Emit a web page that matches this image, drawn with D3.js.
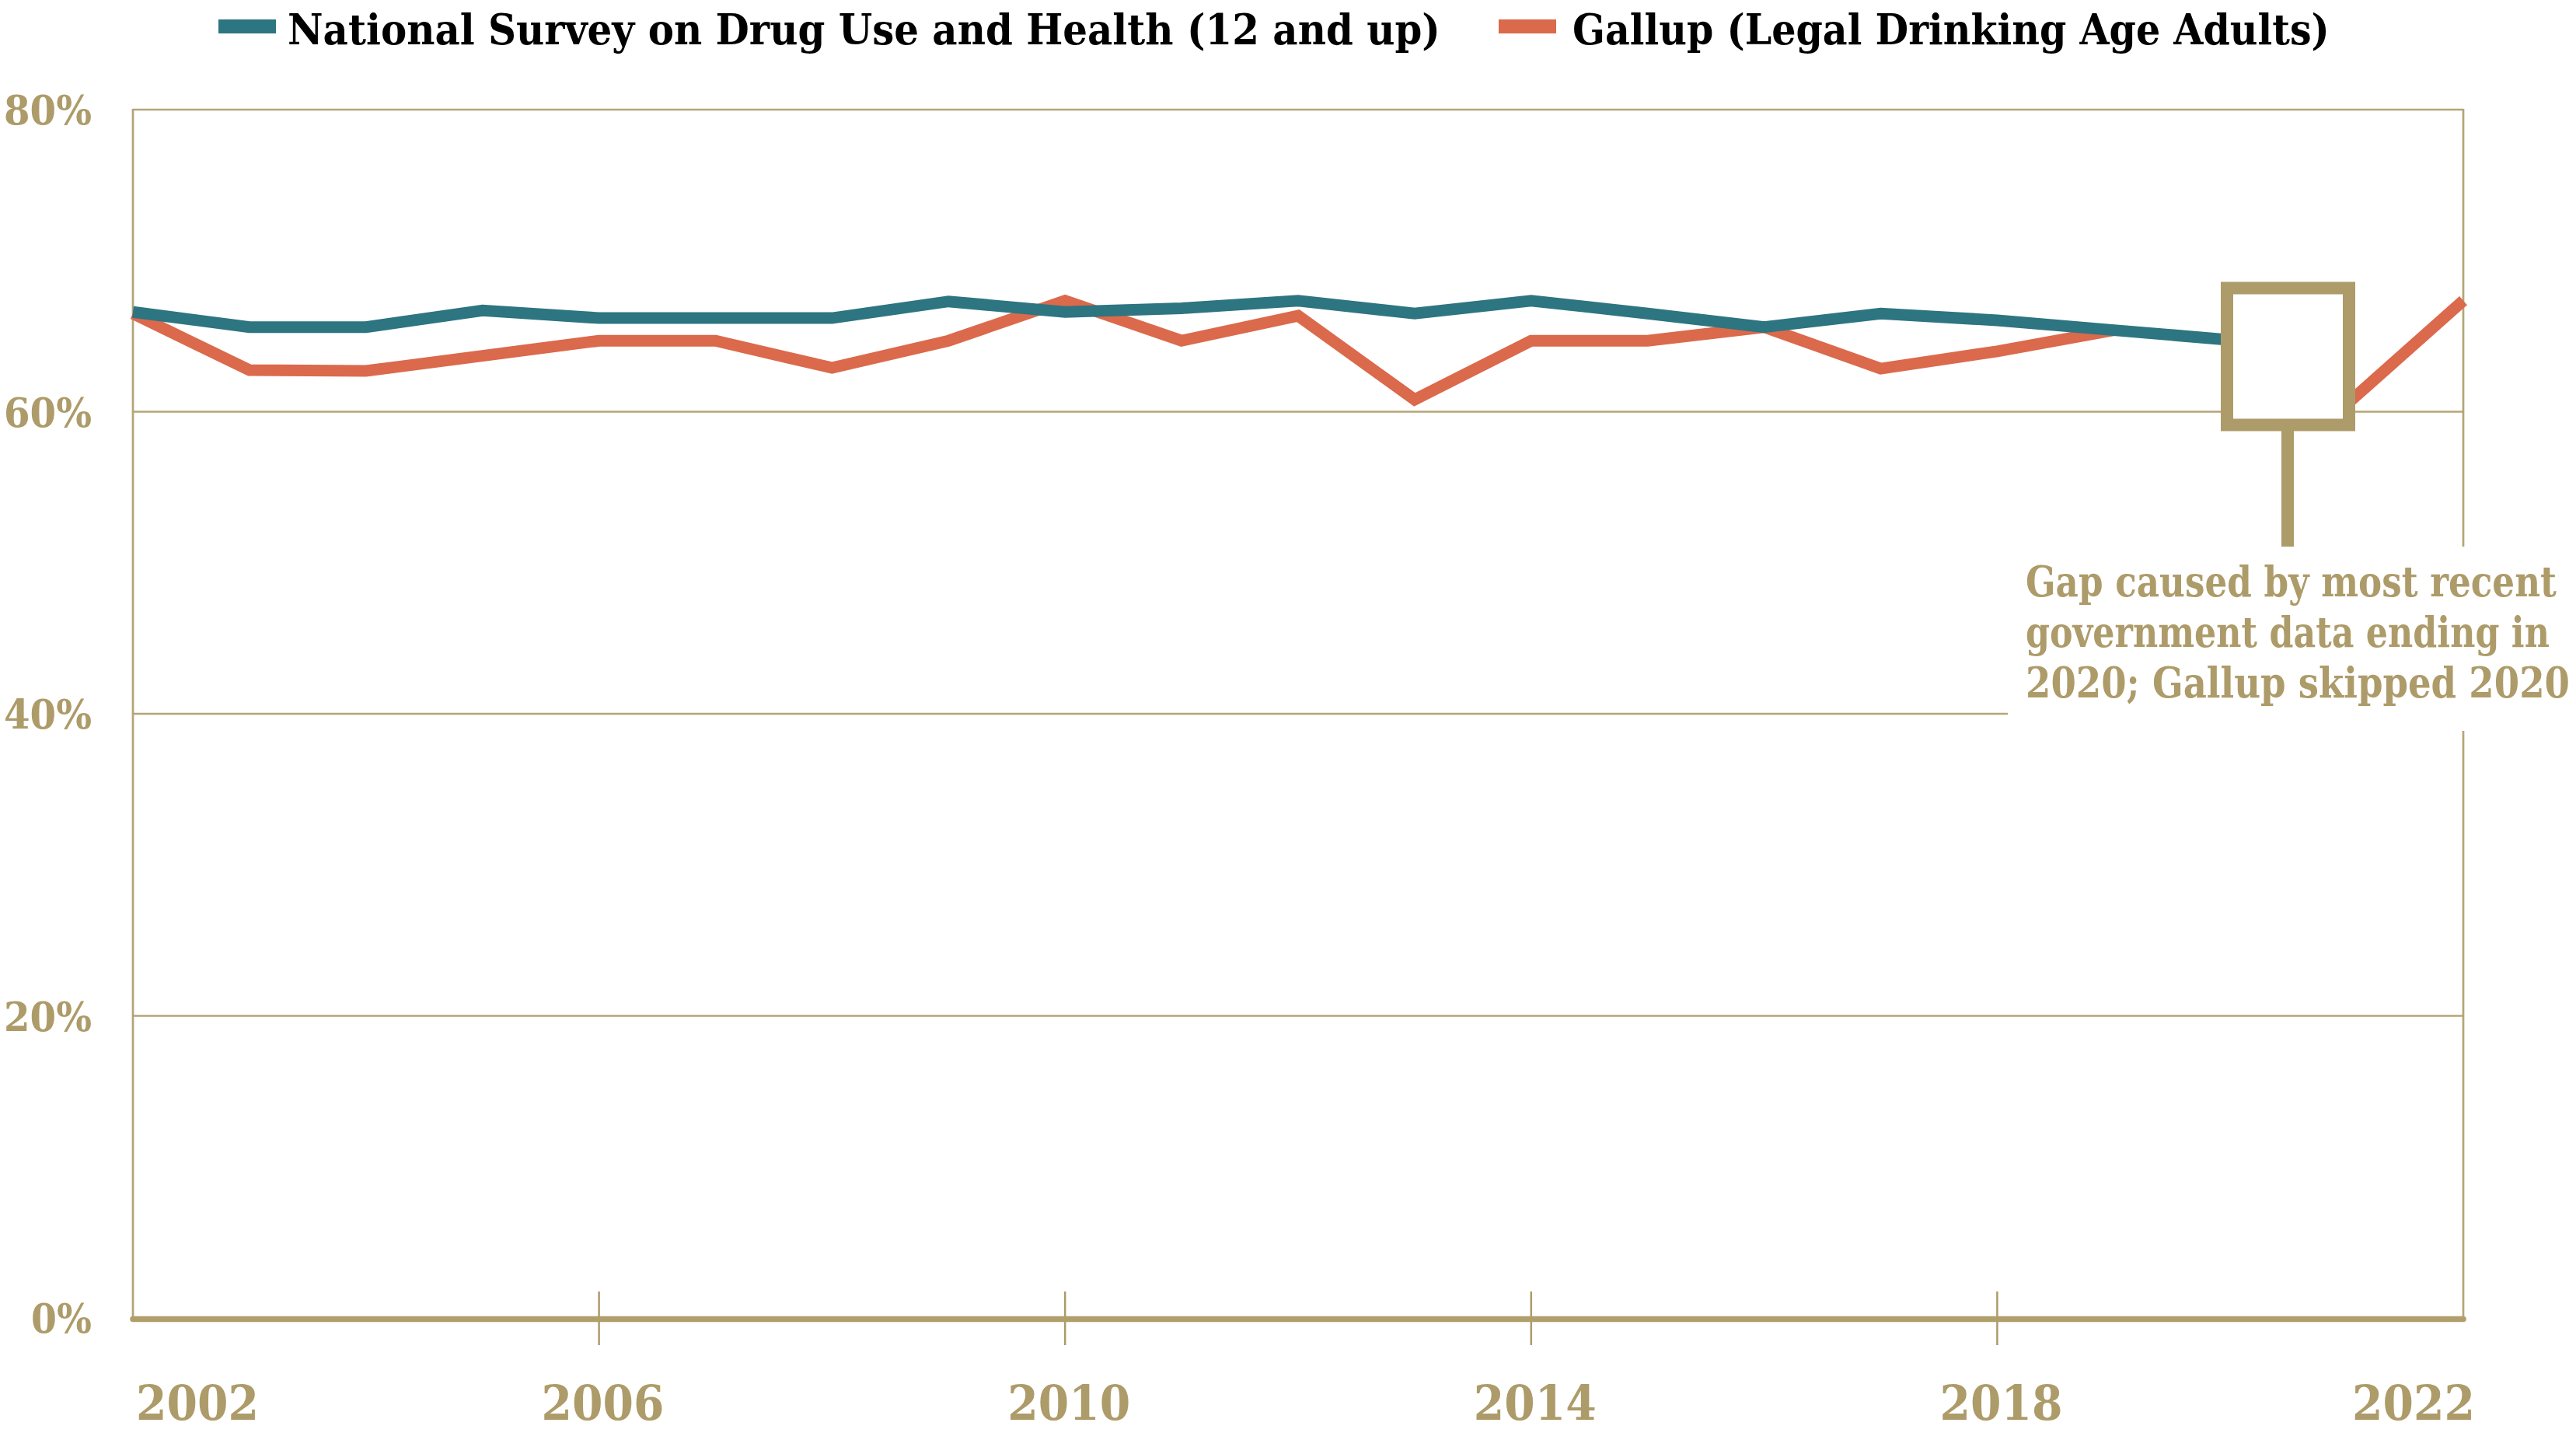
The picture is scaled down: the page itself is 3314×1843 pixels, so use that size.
<!DOCTYPE html>
<html>
<head>
<meta charset="utf-8">
<script src="https://cdn.jsdelivr.net/npm/d3@7"></script>
<style>
  html, body { margin: 0; padding: 0; background: #fff; }
  svg { display: block; }
  text { font-family: "DejaVu Serif", serif; font-weight: bold; }
</style>
</head>
<body>
<svg id="chart"></svg>
<script>
// values (percent who drink)
var years = [2002, 2003, 2004, 2005, 2006, 2007, 2008, 2009, 2010, 2011, 2012,
             2013, 2014, 2015, 2016, 2017, 2018, 2019, 2020, 2021, 2022];
var nsduh = [66.6, 65.6, 65.6, 66.7, 66.2, 66.2, 66.2, 67.3, 66.6, 66.85, 67.35,
             66.5, 67.35, 66.5, 65.6, 66.5, 66.05, 65.4, 64.75, null, null];
var gallup = [66.5, 62.75, 62.7, 63.7, 64.7, 64.7, 62.9, 64.7, 67.35, 64.7, 66.35,
              60.8, 64.7, 64.7, 65.6, 62.85, 64.0, 65.4, null, 60.5, 67.35];
var seriesNames = ["National Survey on Drug Use and Health (12 and up)", "Gallup (Legal Drinking Age Adults)"];
var yTicks = [0, 20, 40, 60, 80];
var xTicks = [2002, 2006, 2010, 2014, 2018, 2022];
var noteLines = ["Gap caused by most recent", "government data ending in", "2020; Gallup skipped 2020"];

var W = 3314, H = 1843;
var teal = "#2d7580", orange = "#db694c", tan = "#ad9b69", grid = "#b4a577";

var svg = d3.select("#chart").attr("width", W).attr("height", H);

var x = d3.scaleLinear().domain([2002, 2022]).range([171, 3169]);
var y = d3.scaleLinear().domain([0, 80]).range([1695, 141]);

// put a text at (px, py) and squeeze it sideways to width w
function fit(node, px, py, w) {
    var sel = d3.select(node).attr("x", 0).attr("y", 0);
    var nat = node.getComputedTextLength();
    var k = Math.min(1, w / nat);
    sel.attr("transform", "translate(" + px + "," + py + ") scale(" + k + ",1)");
}

// horizontal gridlines (40% one stops at the note)
svg.selectAll(".grid")
    .data(yTicks.filter(function (d) { return d > 0; }))
    .enter()
    .append("line")
    .attr("x1", x(2002))
    .attr("x2", function (d) { return d == 40 ? 2583 : x(2022); })
    .attr("y1", function (d) { return y(d); })
    .attr("y2", function (d) { return y(d); })
    .attr("stroke", grid)
    .attr("stroke-width", 2.7);

// frame sides
svg.append("line")
    .attr("x1", x(2002)).attr("x2", x(2002))
    .attr("y1", y(80) - 1).attr("y2", y(0))
    .attr("stroke", grid).attr("stroke-width", 2.7);
svg.append("line")
    .attr("x1", x(2022)).attr("x2", x(2022))
    .attr("y1", y(80) - 1).attr("y2", y(0))
    .attr("stroke", grid).attr("stroke-width", 2.7);

// x ticks (inner ones only)
svg.selectAll(".tick")
    .data(xTicks.slice(1, -1))
    .enter()
    .append("line")
    .attr("x1", function (d) { return x(d); })
    .attr("x2", function (d) { return x(d); })
    .attr("y1", y(0) - 34)
    .attr("y2", y(0) + 35)
    .attr("stroke", tan)
    .attr("stroke-width", 2.5);

// baseline
svg.append("line")
    .attr("x1", x(2002)).attr("x2", x(2022))
    .attr("y1", y(0) + 1.5).attr("y2", y(0) + 1.5)
    .attr("stroke", "#b09f6b").attr("stroke-width", 7.5)
    .attr("stroke-linecap", "round");

// white box behind the note text
svg.append("rect")
    .attr("x", 2583).attr("y", 703)
    .attr("width", W - 2583).attr("height", 237)
    .attr("fill", "#fff");

// series lines
var line = d3.line()
    .defined(function (d) { return d.v != null; })
    .x(function (d) { return x(d.year); })
    .y(function (d) { return y(d.v); });

[[gallup, orange], [nsduh, teal]].forEach(function (s) {
    var pts = years.map(function (yr, i) { return { year: yr, v: s[0][i] }; });
    svg.append("path")
        .datum(pts)
        .attr("d", line)
        .attr("fill", "none")
        .attr("stroke", s[1])
        .attr("stroke-width", 15)
        .attr("stroke-linejoin", "miter")
        .attr("stroke-linecap", "butt");
});

// gap marker box and stem
svg.append("rect")
    .attr("x", 2865).attr("y", 370.5)
    .attr("width", 157).attr("height", 176)
    .attr("fill", "#fff")
    .attr("stroke", tan)
    .attr("stroke-width", 16);
svg.append("line")
    .attr("x1", 2943).attr("x2", 2943)
    .attr("y1", 554).attr("y2", 703)
    .attr("stroke", tan).attr("stroke-width", 16);

// note text
svg.selectAll(".note")
    .data(noteLines)
    .enter()
    .append("text")
    .attr("font-size", 54)
    .attr("fill", tan)
    .text(function (d) { return d; })
    .each(function (d, i) { fit(this, 2606, 767 + i * 65, [683, 674, 700][i]); });

// y labels
svg.selectAll(".ylab")
    .data(yTicks)
    .enter()
    .append("text")
    .attr("text-anchor", "end")
    .attr("font-size", 52)
    .attr("fill", tan)
    .text(function (d) { return d + "%"; })
    .each(function (d) { fit(this, 118, y(d) + 19, d == 0 ? 78 : 113); });

// x labels
svg.selectAll(".xlab")
    .data(xTicks)
    .enter()
    .append("text")
    .attr("text-anchor", function (d, i) {
        return i == 0 ? "start" : (i == xTicks.length - 1 ? "end" : "middle");
    })
    .attr("font-size", 62)
    .attr("fill", tan)
    .text(function (d) { return d; })
    .each(function (d, i) {
        var px = x(d) + 5;
        if (i == 0) px = x(d) + 4;
        if (i == xTicks.length - 1) px = x(d) + 15;
        fit(this, px, 1826, 158);
    });

// legend
var legend = [
    { name: seriesNames[0], color: teal, x0: 281, tx: 370, w: 1483 },
    { name: seriesNames[1], color: orange, x0: 1928, tx: 2023, w: 974 }
];
var lg = svg.selectAll(".legend")
    .data(legend)
    .enter()
    .append("g");
lg.append("rect")
    .attr("x", function (d) { return d.x0; })
    .attr("y", 25)
    .attr("width", 74)
    .attr("height", 18)
    .attr("fill", function (d) { return d.color; });
lg.append("text")
    .attr("font-size", 55)
    .attr("fill", "#000")
    .text(function (d) { return d.name; })
    .each(function (d) { fit(this, d.tx, 57, d.w); });
</script>
</body>
</html>
